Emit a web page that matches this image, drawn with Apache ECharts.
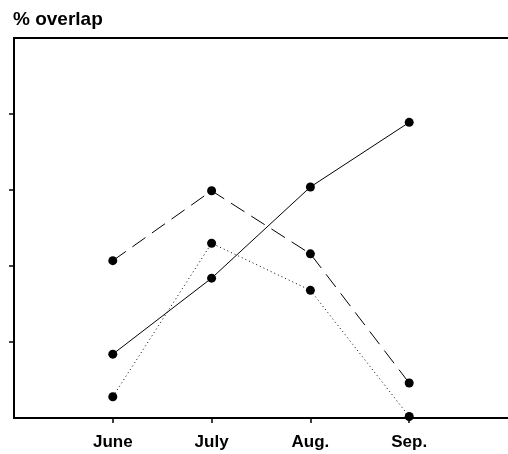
<!DOCTYPE html>
<html>
<head>
<meta charset="utf-8">
<script src="https://cdn.jsdelivr.net/npm/echarts@6/dist/echarts.min.js"></script>
<style>html,body{margin:0;padding:0;background:#fff;}#c{width:508px;height:454px;}</style>
</head>
<body>
<div id="c"></div>
<script>
const categories = ['June', 'July', 'Aug.', 'Sep.'];
const solidValues = [8.4, 18.4, 30.4, 38.9];
const dashedValues = [20.7, 29.9, 21.6, 4.6];
const dottedValues = [2.8, 23.0, 16.8, 0.2];
const yTicks = [10, 20, 30, 40];

const toPts = vals => vals.map((v, i) => [i + 1, v]);
const chart = echarts.init(document.getElementById('c'));
const lineSeries = (vals, type) => ({
  type: 'line',
  data: toPts(vals),
  symbol: 'circle',
  symbolSize: 9,
  itemStyle: { color: '#000' },
  lineStyle: { color: '#000', width: 1, type: type },
  clip: false,
  animation: false
});
chart.setOption({
  animation: false,
  title: {
    text: '% overlap', left: 8, top: 5,
    textStyle: { fontFamily: 'Liberation Sans', fontWeight: 'bold', fontSize: 19, color: '#000' }
  },
  grid: { left: 14, right: 0, top: 38, bottom: 36 },
  xAxis: [{
    type: 'value', min: 0, max: 5, interval: 1,
    axisLine: { lineStyle: { color: '#000', width: 2 } },
    axisTick: { show: true, length: 5, lineStyle: { color: '#000', width: 1.5 },
      customValues: [1, 2, 3, 4] },
    splitLine: { show: false },
    axisLabel: {
      customValues: [1, 2, 3, 4],
      formatter: v => categories[v - 1] || '',
      fontFamily: 'Liberation Sans', fontWeight: 'bold', fontSize: 17, color: '#000', margin: 16
    }
  }, {
    type: 'value', min: 0, max: 5, position: 'top',
    axisLine: { show: true, lineStyle: { color: '#000', width: 2 } },
    axisTick: { show: false }, axisLabel: { show: false }, splitLine: { show: false }
  }],
  yAxis: {
    type: 'value', min: 0, max: 50, interval: 10,
    axisLine: { show: true, lineStyle: { color: '#000', width: 2 } },
    axisTick: { show: true, length: 5, lineStyle: { color: '#000', width: 1.5 }, customValues: yTicks },
    axisLabel: { show: false },
    splitLine: { show: false }
  },
  series: [
    lineSeries(solidValues, 'solid'),
    lineSeries(dashedValues, [16, 8]),
    lineSeries(dottedValues, [1, 3])
  ]
});
</script>
</body>
</html>
